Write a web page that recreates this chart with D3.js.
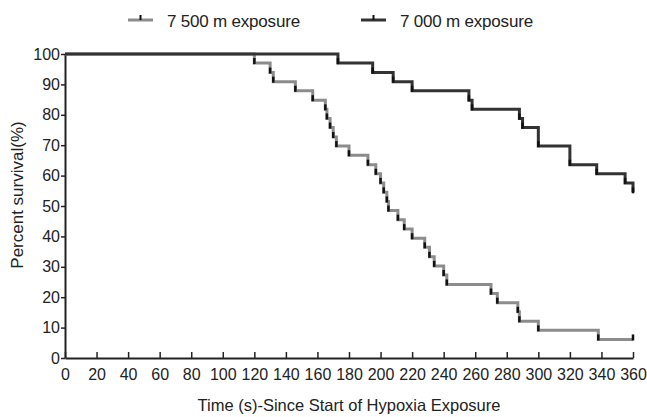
<!DOCTYPE html>
<html>
<head>
<meta charset="utf-8">
<script src="https://cdn.jsdelivr.net/npm/d3@7"></script>
<style>
  body { margin: 0; background: #fff; }
  text { font-family: "Liberation Sans", Arial, sans-serif; fill: #222; }
</style>
</head>
<body>
<div class="chart"></div>
<script>
// survival steps: [time (s), percent survival]
var steps7500 = [
  [0, 100], [120, 97], [130, 93.9], [132, 90.9], [146, 87.9], [157, 84.8],
  [165, 81.8], [166, 78.8], [168, 75.8], [170, 72.7], [172, 69.7], [180, 66.7],
  [192, 63.6], [197, 60.6], [200, 57.6], [202, 54.5], [204, 51.5], [205, 48.5],
  [211, 45.5], [215, 42.4], [220, 39.4], [228, 36.4], [231, 33.3], [234, 30.3],
  [240, 27.3], [242, 24.2], [270, 21.2], [274, 18.2], [287, 15.2], [288, 12.1],
  [300, 9.1], [338, 6.1], [360, 6.1]
];
var steps7000 = [
  [0, 100], [173, 97], [195, 93.9], [208, 90.9], [220, 87.9], [256, 84.8],
  [258, 81.8], [288, 78.8], [290, 75.8], [300, 69.7], [320, 63.6], [337, 60.6],
  [355, 57.6], [360, 54.5]
];
var seriesNames = ["7 500 m exposure", "7 000 m exposure"];
var seriesColors = ["#8c8c8c", "#333333"];
var xTicks = d3.range(0, 361, 20);
var yTicks = d3.range(0, 101, 10);

var svgWidth = 647, svgHeight = 417;
var margin = { top: 54, right: 14, bottom: 59, left: 65 };
var width = svgWidth - margin.left - margin.right;
var height = svgHeight - margin.top - margin.bottom;

var svg = d3.select(".chart").append("svg")
  .attr("width", svgWidth)
  .attr("height", svgHeight);

var chartGroup = svg.append("g")
  .attr("transform", `translate(${margin.left}, ${margin.top})`);

var x = d3.scaleLinear().domain([0, 360]).range([0, width]);
var y = d3.scaleLinear().domain([0, 100]).range([height, 0]);

// x axis: ticks point up into the plot
var xAxis = chartGroup.append("g")
  .attr("transform", `translate(0, ${height})`)
  .call(d3.axisBottom(x).tickValues(xTicks).tickSizeInner(-6).tickSizeOuter(0).tickPadding(11));
xAxis.select(".domain").attr("stroke", "#222").attr("stroke-width", 2);
xAxis.selectAll(".tick line").attr("stroke", "#222").attr("stroke-width", 1.5);
xAxis.selectAll("text").attr("font-size", 16).style("fill", "#222");

var yAxis = chartGroup.append("g")
  .call(d3.axisLeft(y).tickValues(yTicks).tickSizeInner(4).tickSizeOuter(0).tickPadding(1));
yAxis.select(".domain").attr("stroke", "#222").attr("stroke-width", 2);
yAxis.selectAll(".tick line").attr("stroke", "#222").attr("stroke-width", 1.5);
yAxis.selectAll("text").attr("font-size", 16).style("fill", "#222");

// axis titles
chartGroup.append("text")
  .attr("transform", "rotate(-90)")
  .attr("x", -(195 - margin.top))
  .attr("y", -margin.left + 23)
  .attr("text-anchor", "middle")
  .attr("font-size", 17)
  .text("Percent survival(%)");

chartGroup.append("text")
  .attr("x", width / 2)
  .attr("y", height + 53)
  .attr("text-anchor", "middle")
  .attr("font-size", 16.5)
  .text("Time (s)-Since Start of Hypoxia Exposure");

// step lines
var line = d3.line()
  .x(d => x(d[0]))
  .y(d => y(d[1]))
  .curve(d3.curveStepAfter);

[steps7500, steps7000].forEach(function(data, i) {
  chartGroup.append("path")
    .datum(data)
    .attr("fill", "none")
    .attr("stroke", seriesColors[i])
    .attr("stroke-width", 3)
    .attr("d", line);

  // dark tick marks at each drop
  chartGroup.selectAll(null)
    .data(data.slice(1))
    .enter()
    .append("line")
    .attr("x1", d => x(d[0]))
    .attr("x2", d => x(d[0]))
    .attr("y1", d => y(d[1]) - 5)
    .attr("y2", d => y(d[1]) + 1)
    .attr("stroke", "#111")
    .attr("stroke-width", 2.5);
});

// legend
var legendX = [128, 361];
seriesNames.forEach(function(name, i) {
  var g = svg.append("g").attr("transform", `translate(${legendX[i]}, 20)`);
  g.append("line")
    .attr("x1", 0).attr("x2", 25).attr("y1", 0).attr("y2", 0)
    .attr("stroke", seriesColors[i]).attr("stroke-width", 3);
  g.append("line")
    .attr("x1", 12.5).attr("x2", 12.5).attr("y1", -5).attr("y2", 0)
    .attr("stroke", "#111").attr("stroke-width", 2);
  g.append("text")
    .attr("x", 39)
    .attr("y", 7)
    .attr("font-size", 17)
    .attr("letter-spacing", -0.2)
    .text(name);
});
</script>
</body>
</html>
